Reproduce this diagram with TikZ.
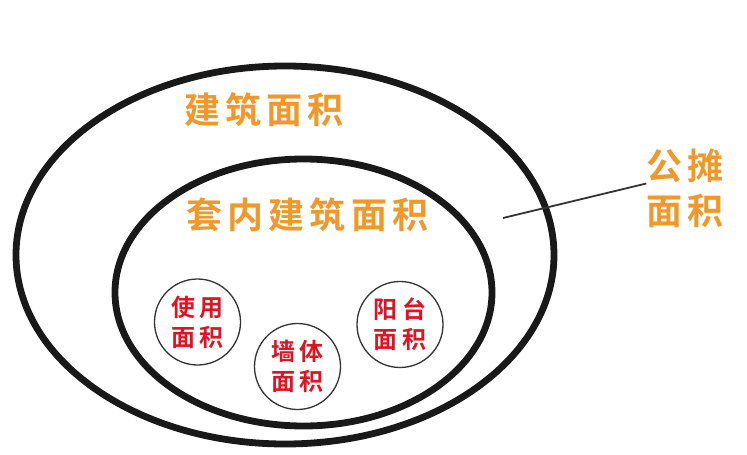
\documentclass[tikz,border=0pt]{standalone}
\usepackage{fontspec}
\newfontfamily\cjkbold{Noto Sans CJK SC Bold}[LetterSpace=14]
\newfontfamily\cjkmed{Noto Sans CJK SC Bold}[LetterSpace=17]
\usetikzlibrary{shapes.geometric, positioning}
\definecolor{areaOrange}{RGB}{240,152,42}
\definecolor{areaRed}{RGB}{220,20,35}
\tikzset{
    ring/.style={ellipse, draw=black!90, line width=6.8pt, inner sep=0pt},
    part/.style={circle, draw=black!80, line width=1.3pt, inner sep=0pt, minimum size=86pt, align=center, text=areaRed, font=\cjkmed\fontsize{24}{30}\selectfont},
    areaLabel/.style={text=areaOrange, font=\cjkbold\fontsize{36}{45}\selectfont, inner sep=0pt, align=center},
    leader/.style={draw=black!80, line width=1.8pt},
}

\begin{document}
\begin{tikzpicture}[x=1pt, y=-1pt]
    \useasboundingbox (0,0) rectangle (747,455);

    \node[ring, minimum width=538pt, minimum height=378pt] (total) at (285, 255) {};
    \node[ring, minimum width=377pt, minimum height=267pt] (suite) at (303.5, 292.5) {};

    \node[areaLabel] (totalName) at (264, 110) {建筑面积};
    \node[areaLabel] (suiteName) at (307.5, 215) {套内建筑面积};
    \node[areaLabel] (shareName) at (685, 188.5) {公摊\\面积};

    \node[part] (usable) at (197.5, 322) {使用\\面积};
    \node[part] (wall) at (297.5, 366.5) {墙体\\面积};
    \node[part] (balcony) at (400, 324.5) {阳台\\面积};

    \coordinate (shareGap) at (503, 218);
    \draw[leader] (shareGap) -- ([yshift=5pt]shareName.west);
\end{tikzpicture}
\end{document}
